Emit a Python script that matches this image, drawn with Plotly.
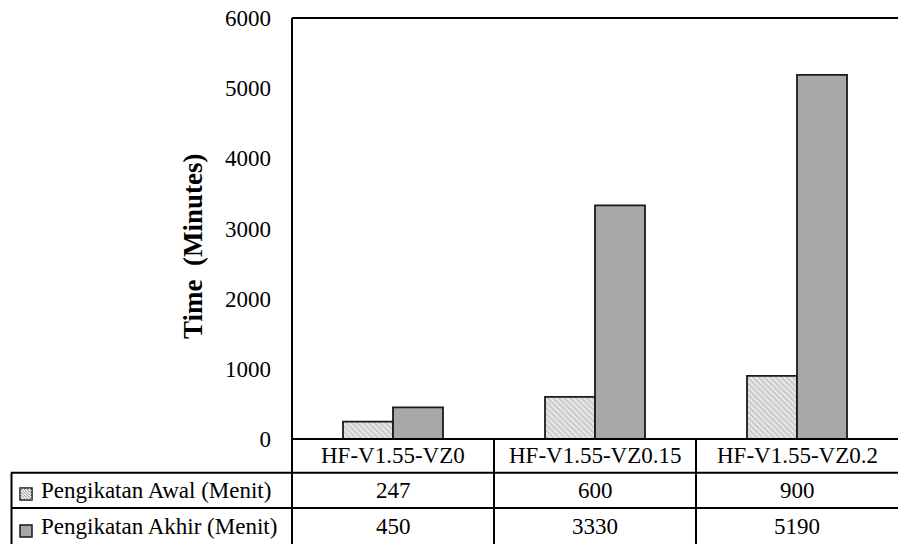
import plotly.graph_objects as go

categories = ["HF-V1.55-VZ0", "HF-V1.55-VZ0.15", "HF-V1.55-VZ0.2"]
awal = [247, 600, 900]
akhir = [450, 3330, 5190]
series_names = ["Pengikatan Awal (Menit)", "Pengikatan Akhir (Menit)"]
y_ticks = [0, 1000, 2000, 3000, 4000, 5000, 6000]
y_title = "Time  (Minutes)"

W, H = 898, 544
L, R, T, B = 292, 0, 18, 105
PW, PH = W - L - R, H - T - B
FONT = "Liberation Serif"
FS = 23
AWAL_BG, AWAL_FG, AKHIR_C = "#e6e6e6", "#9a9a9a", "#a8a8a8"


def px(xp):
    return (xp - L) / PW


def py(yp):
    return (T + PH - yp) / PH


fig = go.Figure()
fig.add_trace(go.Bar(
    x=categories, y=awal, name=series_names[0],
    marker=dict(color=AWAL_BG, line=dict(color="#1a1a1a", width=1.8),
                pattern=dict(shape="\\", bgcolor=AWAL_BG, fgcolor=AWAL_FG,
                             size=4, solidity=0.35, fillmode="overlay")),
    hoverinfo="skip",
))
fig.add_trace(go.Bar(
    x=categories, y=akhir, name=series_names[1],
    marker=dict(color=AKHIR_C, line=dict(color="#1a1a1a", width=1.8)),
    hoverinfo="skip",
))

shapes = []
line = dict(color="black", width=2)
shapes.append(dict(type="line", xref="paper", yref="paper", x0=0, x1=1, y0=1, y1=1, line=line))
shapes.append(dict(type="line", xref="paper", yref="paper", x0=0, x1=0, y0=1, y1=py(545), line=line))
shapes.append(dict(type="line", xref="paper", yref="paper", x0=0, x1=1, y0=0, y1=0, line=line))
row_lines = [472.7, 508]
for yl in row_lines:
    shapes.append(dict(type="line", xref="paper", yref="paper", x0=px(11), x1=px(899),
                       y0=py(yl), y1=py(yl), line=line))
shapes.append(dict(type="line", xref="paper", yref="paper", x0=px(11.5), x1=px(11.5),
                   y0=py(row_lines[0]), y1=py(545), line=line))
for i in range(len(categories) - 1):
    shapes.append(dict(type="line", xref="x", yref="paper", x0=i + 0.5, x1=i + 0.5,
                       y0=0, y1=py(545), line=line))

# legend keys in the table's first column
row_centers = [456, 490.5, 526]
key_centers = [494, 531]
key_fills = [AWAL_BG, AKHIR_C]
for kc, fill in zip(key_centers, key_fills):
    shapes.append(dict(type="rect", xref="paper", yref="paper",
                       x0=px(20), x1=px(32), y0=py(kc + 6), y1=py(kc - 6),
                       fillcolor=fill, line=dict(color="#1a1a1a", width=1.5)))
# hatch inside first key
kc = key_centers[0]
segs = []
for k in range(-12, 13, 3):
    # lines of slope "\" inside the 12x12 box
    xa, ya = 20 + k, kc - 6
    xb, yb = 32 + k, kc + 6
    # clip to box
    if xa < 20:
        ya += 20 - xa
        xa = 20
    if xb > 32:
        yb -= xb - 32
        xb = 32
    if xb - xa > 1:
        segs.append(f"M{px(xa)},{py(ya)} L{px(xb)},{py(yb)}")
shapes.append(dict(type="path", xref="paper", yref="paper", path=" ".join(segs),
                   line=dict(color=AWAL_FG, width=0.8)))

annotations = []
tf = dict(family=FONT, size=FS, color="black")
for i, c in enumerate(categories):
    for rc, txt in zip(row_centers, [c, str(awal[i]), str(akhir[i])]):
        annotations.append(dict(x=i, y=py(rc), xref="x", yref="paper", text=txt,
                                xanchor="center", yanchor="middle",
                                showarrow=False, font=tf))
for rc, name in zip(row_centers[1:], series_names):
    annotations.append(dict(x=px(39), y=py(rc), xref="paper", yref="paper", text=name,
                            xanchor="left", yanchor="middle", showarrow=False, font=tf))
annotations.append(dict(x=px(193), y=py(247), xref="paper", yref="paper",
                        text="<b>" + y_title + "</b>", textangle=-90,
                        xanchor="center", yanchor="middle", showarrow=False,
                        font=dict(family=FONT, size=27, color="black")))

fig.update_layout(
    width=W, height=H,
    margin=dict(l=L, r=R, t=T, b=B, pad=0),
    paper_bgcolor="white", plot_bgcolor="white",
    barmode="group", bargap=0.505, bargroupgap=0,
    showlegend=False,
    xaxis=dict(range=[-0.5, 2.5], showticklabels=False, showgrid=False, zeroline=False,
               showline=False, ticks=""),
    yaxis=dict(range=[0, 6000], tickvals=y_ticks, showgrid=False, zeroline=False,
               showline=False, ticks="", ticklabelstandoff=20, automargin=False,
               tickfont=tf),
    shapes=shapes,
    annotations=annotations,
    font=dict(family=FONT, color="black"),
)

fig.write_html("out.html")
